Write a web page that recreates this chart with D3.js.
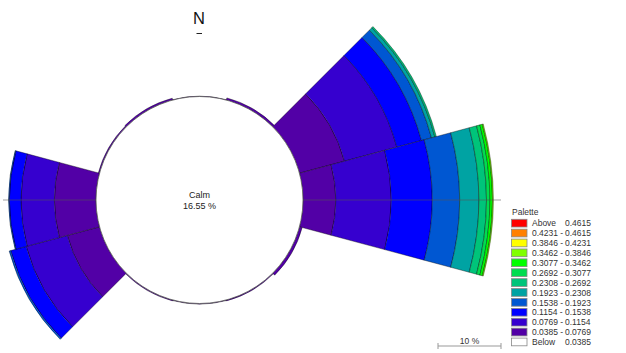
<!DOCTYPE html>
<html>
<head>
<meta charset="utf-8">
<script src="https://cdn.jsdelivr.net/npm/d3@7/dist/d3.min.js"></script>
<style>
  html, body { margin: 0; padding: 0; background: #fff; }
  svg { display: block; font-family: "Liberation Sans", Arial, sans-serif; }
</style>
</head>
<body>
<svg id="rose" width="626" height="353"></svg>
<script>
// Wind directions (bearing of each petal centre, degrees clockwise from north)
const directions = [0, 30, 60, 90, 120, 150, 180, 210, 240, 270, 300, 330];

// Class limits of the palette
const classBreaks = [0.0385, 0.0769, 0.1154, 0.1538, 0.1923, 0.2308, 0.2692, 0.3077, 0.3462, 0.3846, 0.4231, 0.4615];

// Frequency (%) of each class per direction
const class1 = [0.05, 0.35, 7.4, 5.2, 0.45, 0.15, 0.10, 0.15, 5.3, 6.6, 0.20, 0.30]; // 0.0385 - 0.0769
const class2 = [0, 0, 8.6, 8.8, 0, 0, 0, 0, 6.75, 5.3, 0, 0];                       // 0.0769 - 0.1154
const class3 = [0, 0, 4.05, 6.5, 0, 0, 0, 0, 2.55, 1.85, 0, 0];                     // 0.1154 - 0.1538
const class4 = [0, 0, 1.65, 4.35, 0, 0, 0, 0, 0.25, 0.12, 0, 0];                    // 0.1538 - 0.1923
const class5 = [0, 0, 0.55, 3.05, 0, 0, 0, 0, 0, 0, 0, 0];                          // 0.1923 - 0.2308
const class6 = [0, 0, 0.25, 1.2, 0, 0, 0, 0, 0, 0, 0, 0];                           // 0.2308 - 0.2692
const class7 = [0, 0, 0, 0.55, 0, 0, 0, 0, 0, 0, 0, 0];                             // 0.2692 - 0.3077
const class8 = [0, 0, 0, 0.4, 0, 0, 0, 0, 0, 0, 0, 0];                              // 0.3077 - 0.3462
const class9 = [0, 0, 0, 0.15, 0, 0, 0, 0, 0, 0, 0, 0];                             // 0.3462 - 0.3846
const classSeries = [class1, class2, class3, class4, class5, class6, class7, class8, class9];

const calmPercent = 16.55;
const scaleBarPercent = 10;

// Palette, lowest class first (index 0 = "Below")
const paletteColors = ["#ffffff", "#5200a6", "#3600cf", "#0000ff", "#0057d2", "#00a3a3",
                       "#00c47a", "#00dc50", "#00ff00", "#80ff00", "#ffff00", "#ff8000", "#ff0000"];

const svg = d3.select("#rose");
const cx = 199.5, cy = 200, calmR = 103.5;
const pxPerPercent = 6.3;
const sectorHalf = 15; // degrees

const r = d3.scaleLinear().domain([0, 10]).range([calmR, calmR + 10 * pxPerPercent]);
const toRad = d => d * Math.PI / 180;

const g = svg.append("g").attr("transform", `translate(${cx},${cy})`);

// stacked petals
const arc = d3.arc();
directions.forEach((dir, i) => {
  let cum = 0;
  classSeries.forEach((series, k) => {
    const v = series[i];
    if (!v) return;
    const inner = r(cum), outer = r(cum + v);
    cum += v;
    g.append("path")
      .attr("d", arc({
        innerRadius: inner, outerRadius: outer,
        startAngle: toRad(dir - sectorHalf), endAngle: toRad(dir + sectorHalf)
      }))
      .attr("fill", paletteColors[k + 1])
      .attr("stroke", "#000")
      .attr("stroke-opacity", 0.75)
      .attr("stroke-width", 0.5);
  });
});

// horizontal axis (hidden inside the calm circle)
svg.append("line")
  .attr("x1", 3).attr("x2", 501).attr("y1", cy).attr("y2", cy)
  .attr("stroke", "#555").attr("stroke-opacity", 0.55).attr("stroke-width", 1);

// calm circle
svg.append("circle").attr("cx", cx).attr("cy", cy)
  .attr("r", calmR).attr("fill", "#fff")
  .attr("stroke", "#555").attr("stroke-width", 0.8);

// north marker
svg.append("text").attr("x", 199).attr("y", 24).attr("text-anchor", "middle")
  .attr("font-size", 16.5).attr("fill", "#111").text("N");
svg.append("line").attr("x1", 196.5).attr("x2", 202).attr("y1", 33.5).attr("y2", 33.5)
  .attr("stroke", "#222").attr("stroke-width", 1);

// calm label
svg.append("text").attr("x", cx).attr("y", 198.3).attr("text-anchor", "middle")
  .attr("font-size", 9).attr("fill", "#222").text("Calm");
svg.append("text").attr("x", cx).attr("y", 209.3).attr("text-anchor", "middle")
  .attr("font-size", 9).attr("fill", "#222").text(calmPercent.toFixed(2) + " %");

// scale bar
const barX0 = 438, barX1 = barX0 + scaleBarPercent * pxPerPercent, barY = 346;
svg.append("path")
  .attr("d", `M${barX0},${barY - 3}V${barY + 3}M${barX0},${barY}H${barX1}M${barX1},${barY - 3}V${barY + 3}`)
  .attr("stroke", "#999").attr("fill", "none").attr("stroke-width", 1);
svg.append("text").attr("x", (barX0 + barX1) / 2).attr("y", 343.5).attr("text-anchor", "middle")
  .attr("font-size", 8.5).attr("fill", "#333").text(scaleBarPercent + " %");

// legend
const lg = svg.append("g").attr("font-size", 8.5).attr("fill", "#333");
lg.append("text").attr("x", 512).attr("y", 215).text("Palette");
const rowY = d3.scaleLinear().domain([0, 12]).range([219.3, 338.1]);
const fmt = d => d.toFixed(4);
const legendRows = [];
legendRows.push({ c: paletteColors[12], a: "Above", b: fmt(classBreaks[11]) });
for (let k = 10; k >= 0; k--) {
  legendRows.push({ c: paletteColors[k + 1], a: fmt(classBreaks[k]) + " - ", b: fmt(classBreaks[k + 1]) });
}
legendRows.push({ c: paletteColors[0], a: "Below", b: fmt(classBreaks[0]) });
legendRows.forEach((row, i) => {
  const y = rowY(i);
  lg.append("rect").attr("x", 511.5).attr("y", y).attr("width", 15.5).attr("height", 7.7)
    .attr("fill", row.c).attr("stroke", "#888").attr("stroke-width", 0.8);
  lg.append("text").attr("x", 532).attr("y", y + 7).text(row.a);
  lg.append("text").attr("x", 565).attr("y", y + 7).text(row.b);
});
</script>
</body>
</html>
